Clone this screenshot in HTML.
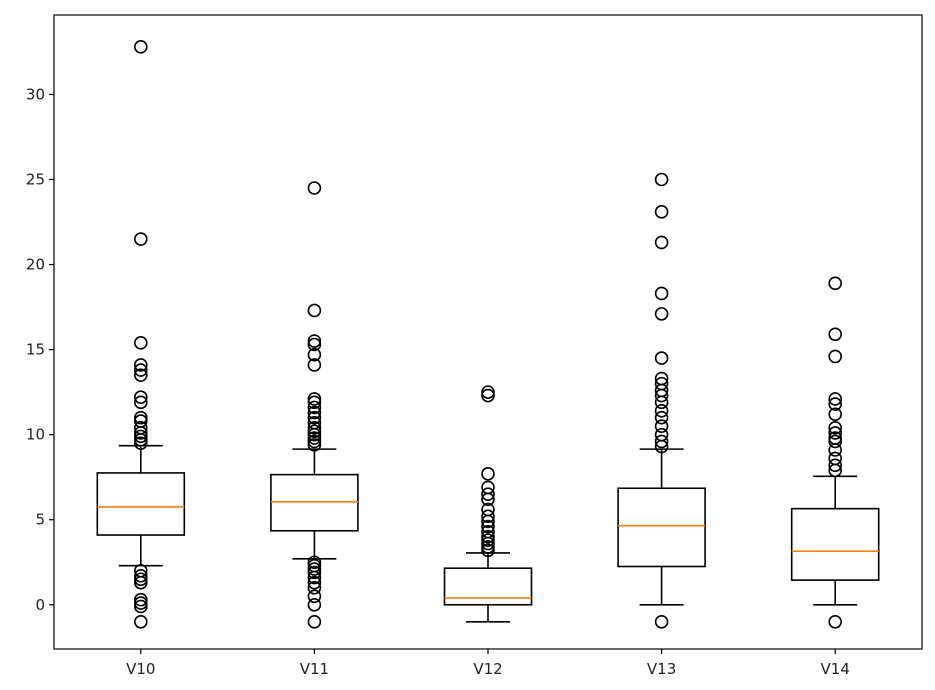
<!DOCTYPE html>
<html><head><meta charset="utf-8"><style>
html,body{margin:0;padding:0;background:#fff;}
svg{display:block;font-family:"DejaVu Sans","Liberation Sans",sans-serif;}
</style></head><body>
<svg id="chart" width="935" height="690" viewBox="0 0 935 690"></svg>
<script>
const categories=["V10","V11","V12","V13","V14"];
const whiskerLow=[2.3,2.7,-1.0,0.0,0.0];
const q1=[4.1,4.35,0.0,2.25,1.45];
const median=[5.75,6.05,0.4,4.65,3.15];
const q3=[7.75,7.65,2.15,6.85,5.65];
const whiskerHigh=[9.35,9.15,3.05,9.15,7.55];
const outliersV10=[9.5,9.7,9.9,10.1,10.4,10.8,11.0,11.9,12.2,13.5,13.8,14.1,15.4,21.5,32.8,2.0,1.7,1.5,1.3,0.3,0.1,-0.1,-1.0];
const outliersV11=[9.4,9.6,9.8,10.0,10.2,10.4,10.7,11.0,11.3,11.6,11.9,12.1,14.1,14.7,15.3,15.5,17.3,24.5,2.5,2.3,2.1,1.9,1.6,1.3,1.0,0.5,0.0,-1.0];
const outliersV12=[3.2,3.4,3.6,3.8,4.0,4.3,4.6,4.9,5.2,5.6,6.2,6.5,6.9,7.7,12.3,12.5];
const outliersV13=[9.3,9.6,10.0,10.5,11.0,11.4,11.9,12.3,12.6,13.0,13.3,14.5,17.1,18.3,21.3,23.1,25.0,-1.0];
const outliersV14=[7.9,8.2,8.6,9.1,9.6,9.8,10.1,10.4,11.2,11.8,12.1,14.6,15.9,18.9,-1.0];
const yTicks=[0,5,10,15,20,25,30];

const outliers=[outliersV10,outliersV11,outliersV12,outliersV13,outliersV14];
const L=54,R=922,T=15,B=649;
const yMin=-2.6,yMax=34.67;
function y(v){return B-(v-yMin)/(yMax-yMin)*(B-T);}
function x(i){return L+(R-L)*(i+0.5)/categories.length;}
const svg=document.getElementById('chart');
const NS="http://www.w3.org/2000/svg";
function el(t,a,p){const e=document.createElementNS(NS,t);for(const k in a)e.setAttribute(k,a[k]);(p||svg).appendChild(e);return e;}
const bw=87,cw=44;
categories.forEach((c,i)=>{
  const g=el('g',{});
  
  
  const cx=x(i);
  const st={stroke:'#000','stroke-width':1.6,fill:'none'};
  el('line',Object.assign({x1:cx,x2:cx,y1:y(whiskerLow[i]),y2:y(q1[i])},st),g);
  el('line',Object.assign({x1:cx,x2:cx,y1:y(q3[i]),y2:y(whiskerHigh[i])},st),g);
  el('line',Object.assign({x1:cx-cw/2,x2:cx+cw/2,y1:y(whiskerLow[i]),y2:y(whiskerLow[i])},st),g);
  el('line',Object.assign({x1:cx-cw/2,x2:cx+cw/2,y1:y(whiskerHigh[i]),y2:y(whiskerHigh[i])},st),g);
  el('rect',Object.assign({x:cx-bw/2,y:y(q3[i]),width:bw,height:y(q1[i])-y(q3[i])},st),g);
  const m=el('line',{x1:cx-bw/2,x2:cx+bw/2,y1:y(median[i]),y2:y(median[i]),stroke:'#ff7f0e','stroke-width':1.6},g);
  
  
  outliers[i].forEach(v=>{
    const o=el('circle',{cx:cx,cy:y(v),r:6,fill:'none',stroke:'#000','stroke-width':1.6},g);
    
    
  });
  el('line',{x1:cx,x2:cx,y1:B,y2:B+5,stroke:'#000','stroke-width':1.2},g);
  const t=el('text',{x:cx,y:B+25,'text-anchor':'middle','font-size':15,fill:'#222'},g);
  t.textContent=c;
  
  
});
yTicks.forEach(v=>{
  el('line',{x1:L-5,x2:L,y1:y(v),y2:y(v),stroke:'#000','stroke-width':1.2});
  const t=el('text',{x:L-9,y:y(v)+5,'text-anchor':'end','font-size':15,fill:'#222'});
  t.textContent=v;
  
  
});
const f=el('rect',{x:L,y:T,width:R-L,height:B-T,fill:'none',stroke:'#000','stroke-width':1.2});


</script>
</body></html>
